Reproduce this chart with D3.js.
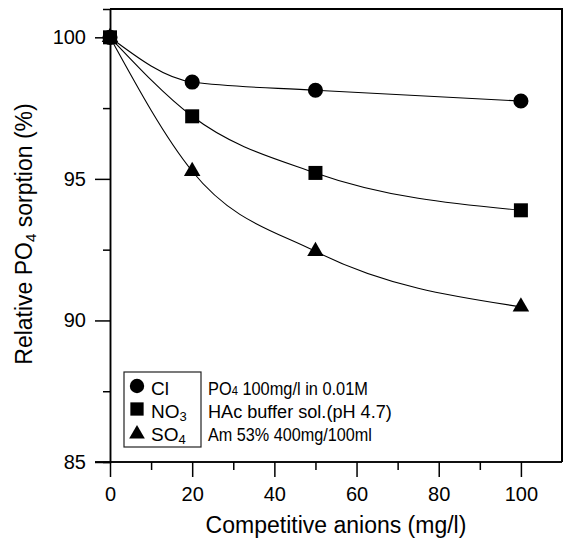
<!DOCTYPE html>
<html>
<head>
<meta charset="utf-8">
<script src="https://cdn.jsdelivr.net/npm/d3@7"></script>
<style>
  body { margin: 0; background: #fff; }
  text { font-family: "Liberation Sans", Arial, sans-serif; fill: #000; }
</style>
</head>
<body>
<svg id="chart" width="566" height="538"></svg>
<script>
// data
var conc = [0, 20, 50, 100];
var clVals  = [100, 98.42, 98.13, 97.75];
var no3Vals = [100, 97.21, 95.21, 93.89];
var so4Vals = [100, 95.27, 92.44, 90.48];

var xTicks = [0, 20, 40, 60, 80, 100];
var xMinor = [10, 30, 50, 70, 90];
var yTicks = [85, 90, 95, 100];
var yMinor = [87.5, 92.5, 97.5];

var conditions = ["PO4 100mg/l in 0.01M", "HAc buffer sol.(pH 4.7)", "Am 53% 400mg/100ml"];
var condWidths = [160, 184, 164];

var margin = {top: 9, right: 4, bottom: 76, left: 110},
	full_width = 566, full_height = 538,
	width = full_width - margin.left - margin.right,
	height = full_height - margin.top - margin.bottom;

var x = d3.scaleLinear().domain([0, 110]).range([0, width]);
var y = d3.scaleLinear().domain([85, 101]).range([height, 0]);

var svg = d3.select("#chart")
	.append("g")
	.attr("transform", "translate(" + margin.left + "," + margin.top + ")");

// frame: top and right
svg.append("path")
	.attr("d", "M0,0H" + width + "V" + height)
	.attr("fill", "none").attr("stroke", "#000").attr("stroke-width", 2);

// x axis
var gx = svg.append("g").attr("transform", "translate(0," + height + ")");
gx.call(d3.axisBottom(x).tickValues(xTicks).tickSize(15).tickSizeOuter(0).tickPadding(10));
gx.append("g").call(d3.axisBottom(x).tickValues(xMinor).tickSize(8).tickFormat(""));
// y axis
var gy = svg.append("g");
gy.call(d3.axisLeft(y).tickValues(yTicks).tickSize(15).tickSizeOuter(0).tickPadding(9));
gy.append("g").call(d3.axisLeft(y).tickValues(yMinor).tickSize(7).tickFormat(""));

svg.selectAll(".domain").attr("stroke", "#000").attr("stroke-width", 1.5);
svg.selectAll(".tick line").attr("stroke", "#000").attr("stroke-width", 1.5);
svg.selectAll(".tick text").attr("font-size", 20).attr("font-family", "Liberation Sans, Arial, sans-serif").attr("fill", "#000");
gx.selectAll(".domain").attr("d", "M-15,0H" + width);

// axis titles
svg.append("text")
	.attr("x", x(55)).attr("y", height + 71)
	.attr("text-anchor", "middle").attr("font-size", 23)
	.text("Competitive anions (mg/l)");

var yt = svg.append("text")
	.attr("transform", "translate(" + (32 - margin.left) + "," + (234 - margin.top) + ") rotate(-90)")
	.attr("text-anchor", "middle").attr("font-size", 23);
yt.append("tspan").text("Relative PO");
yt.append("tspan").attr("font-size", 15).attr("dy", 4).text("4");
yt.append("tspan").attr("dy", -4).text(" sorption (%)");

// series
var series = [
	{name: "Cl", sub: "", vals: clVals, sym: d3.symbolCircle, size: 180},
	{name: "SO", sub: "4", vals: so4Vals, sym: d3.symbolTriangle, size: 118},
	{name: "NO", sub: "3", vals: no3Vals, sym: d3.symbolSquare, size: 196}
];

var line = d3.line()
	.x(function(d, i) { return x(conc[i]); })
	.y(function(d) { return y(d); })
	.curve(d3.curveMonotoneX);

series.forEach(function(s) {
	svg.append("path")
		.attr("d", line(s.vals))
		.attr("fill", "none").attr("stroke", "#000").attr("stroke-width", 1.1);
});
series.forEach(function(s) {
	svg.selectAll(null)
		.data(s.vals)
	  .enter().append("path")
		.attr("transform", function(d, i) { return "translate(" + x(conc[i]) + "," + y(d) + ")"; })
		.attr("d", d3.symbol().type(s.sym).size(s.size))
		.attr("fill", "#000");
});

// legend
var lg = svg.append("g").attr("transform", "translate(" + (124 - margin.left) + "," + (372 - margin.top) + ")");
lg.append("rect").attr("width", 77).attr("height", 75)
	.attr("fill", "#fff").attr("stroke", "#222").attr("stroke-width", 1.2);

var legendItems = [series[0], series[2], series[1]];
legendItems.forEach(function(s, i) {
	var cy = 14 + i * 23;
	lg.append("path")
		.attr("transform", "translate(13," + (cy + (s.sym === d3.symbolTriangle ? 2 : 0)) + ")")
		.attr("d", d3.symbol().type(s.sym).size(s.size * 0.9))
		.attr("fill", "#000");
	var t = lg.append("text").attr("x", 27).attr("y", cy + 9).attr("font-size", 19);
	t.append("tspan").text(s.name);
	if (s.sub) t.append("tspan").attr("font-size", 13).attr("dy", 3).text(s.sub);

	// condition text, squeezed horizontally like the original
	var cg = lg.append("g").attr("transform", "translate(84," + (cy + 9) + ")");
	var c = cg.append("text").attr("font-size", 19);
	if (i === 0) {
		c.append("tspan").text("PO");
		c.append("tspan").attr("font-size", 13).text("4");
		c.append("tspan").text(" 100mg/l in 0.01M");
	} else {
		c.text(conditions[i]);
	}
	var w = c.node().getComputedTextLength();
	c.attr("transform", "scale(" + (condWidths[i] / w) + ",1)");
});
</script>
</body>
</html>
